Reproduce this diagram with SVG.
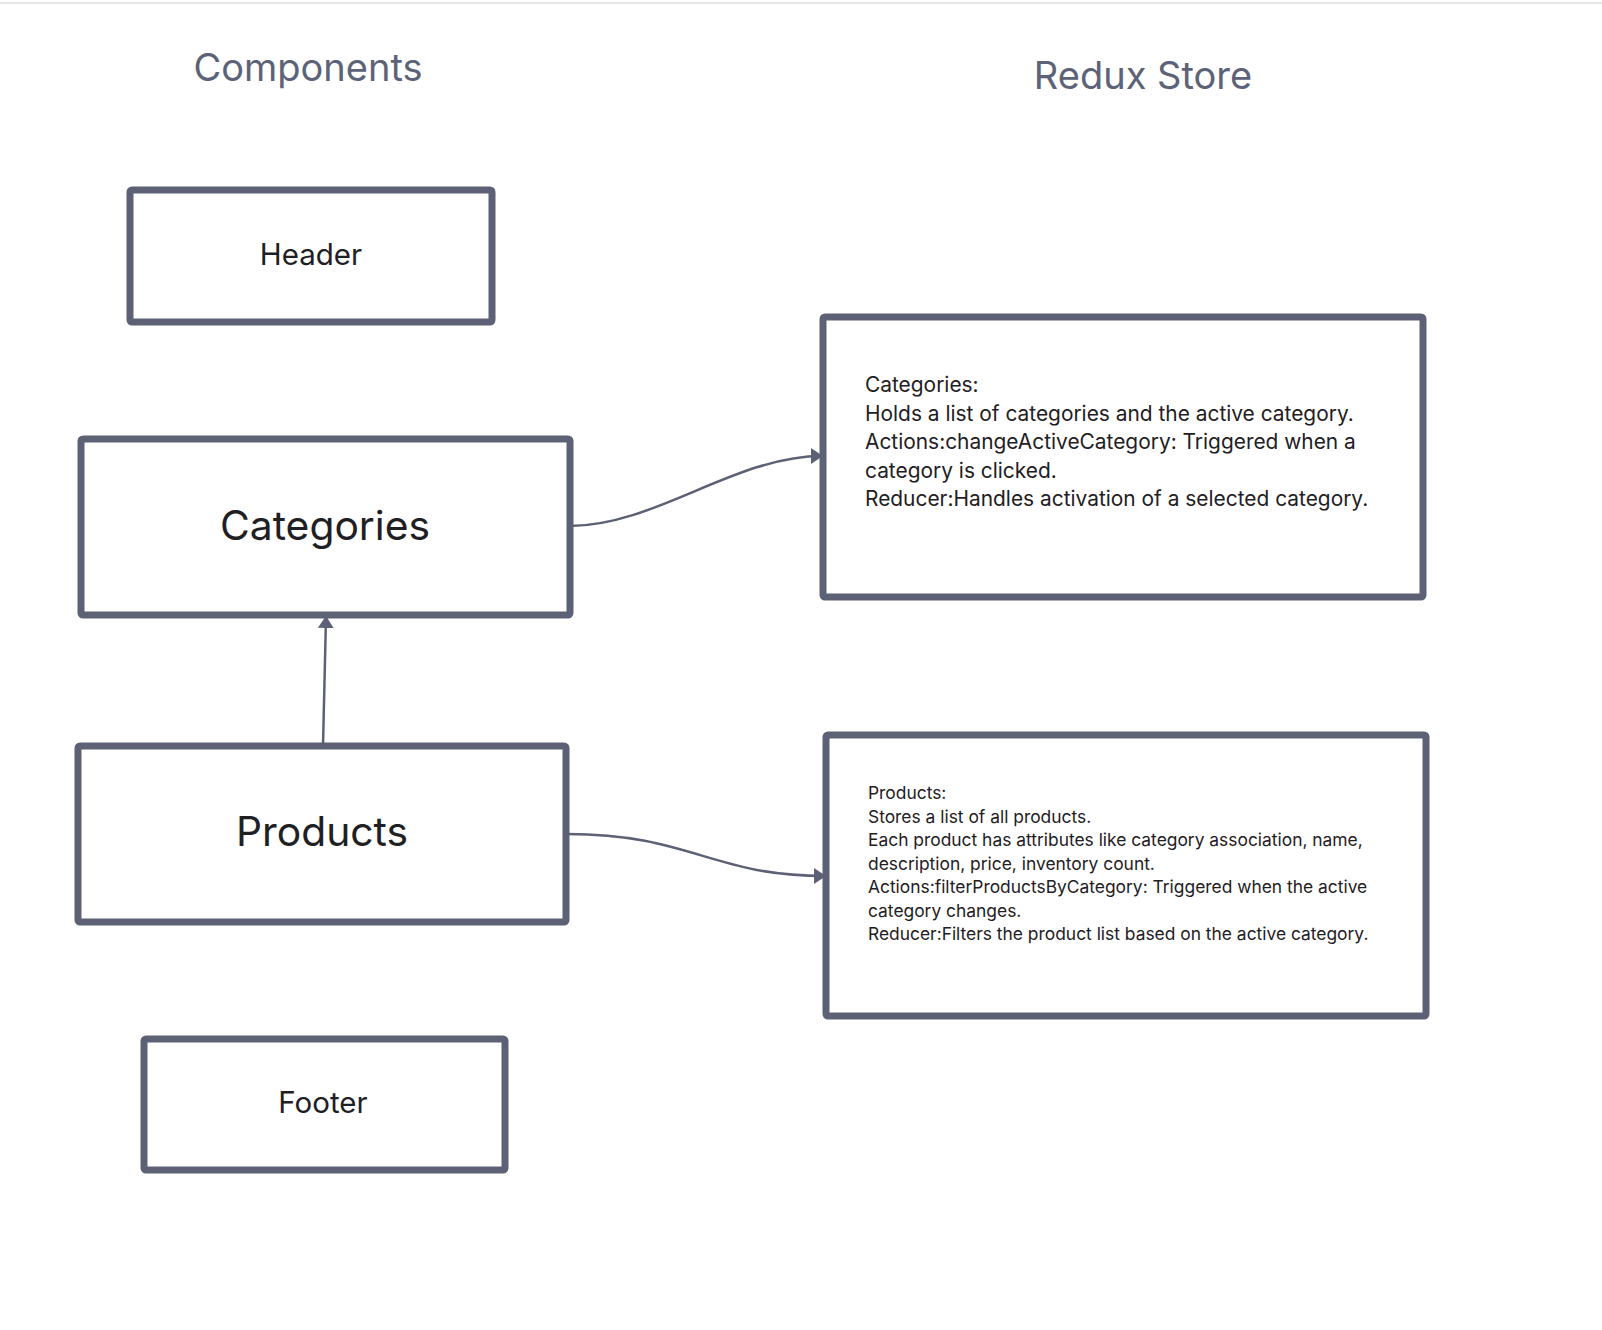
<svg xmlns="http://www.w3.org/2000/svg" width="1602" height="1330" viewBox="0 0 1602 1330">
<style>
.box{fill:#fff;stroke:#5c6175;stroke-width:7;stroke-linejoin:round}
.title{font-family:Inter,"Liberation Sans",sans-serif;font-size:38px;fill:#5c6277;text-anchor:middle}
.lbl{font-family:Inter,"Liberation Sans",sans-serif;fill:#1f2024;text-anchor:middle}
.desc{font-family:Inter,"Liberation Sans",sans-serif;fill:#1f2024}
.conn{fill:none;stroke:#5c6175;stroke-width:2.5}
</style>
<defs>
<marker id="arr" viewBox="0 0 12 16" refX="11" refY="8" markerWidth="4.8" markerHeight="6.4" orient="auto" markerUnits="strokeWidth">
<path d="M0,0 L12,8 L0,16 z" fill="#5c6175"/>
</marker>
</defs>
<rect width="1602" height="1330" fill="#fff"/>
<line x1="0" y1="3" x2="1602" y2="3" stroke="#e6e6e6" stroke-width="2"/>
<text class="title" x="308" y="81">Components</text>
<text class="title" x="1143" y="89">Redux Store</text>
<g id="connectors">
<path class="conn" d="M570,526 C655,526 735,456 822,456" marker-end="url(#arr)"/>
<path class="conn" d="M567,834 C690,834 712,876 825,876" marker-end="url(#arr)"/>
<path class="conn" d="M323,746 L326,617" marker-end="url(#arr)"/>
</g>
<g id="header">
<rect class="box" x="130" y="190" width="362" height="132" rx="2"/>
<text class="lbl" x="311" y="265" font-size="29.5">Header</text>
</g>
<g id="categories">
<rect class="box" x="81" y="439" width="489" height="176" rx="2"/>
<text class="lbl" x="325" y="540" font-size="40.8">Categories</text>
</g>
<g id="products">
<rect class="box" x="78" y="746" width="488" height="176" rx="2"/>
<text class="lbl" x="322" y="846" font-size="40.8">Products</text>
</g>
<g id="footer">
<rect class="box" x="144" y="1039" width="361" height="131" rx="2"/>
<text class="lbl" x="323" y="1113" font-size="29.5">Footer</text>
</g>
<g id="store-categories">
<rect class="box" x="823" y="317" width="600" height="280" rx="2"/>
<text class="desc" font-size="20.9">
<tspan x="865" y="392">Categories:</tspan>
<tspan x="865" y="420.6">Holds a list of categories and the active category.</tspan>
<tspan x="865" y="449.2">Actions:changeActiveCategory: Triggered when a</tspan>
<tspan x="865" y="477.8">category is clicked.</tspan>
<tspan x="865" y="506.4">Reducer:Handles activation of a selected category.</tspan>
</text>
</g>
<g id="store-products">
<rect class="box" x="826" y="735" width="600" height="281" rx="2"/>
<text class="desc" font-size="17.4">
<tspan x="868" y="799">Products:</tspan>
<tspan x="868" y="822.5">Stores a list of all products.</tspan>
<tspan x="868" y="846">Each product has attributes like category association, name,</tspan>
<tspan x="868" y="869.5">description, price, inventory count.</tspan>
<tspan x="868" y="893">Actions:filterProductsByCategory: Triggered when the active</tspan>
<tspan x="868" y="916.5">category changes.</tspan>
<tspan x="868" y="940">Reducer:Filters the product list based on the active category.</tspan>
</text>
</g>
</svg>
